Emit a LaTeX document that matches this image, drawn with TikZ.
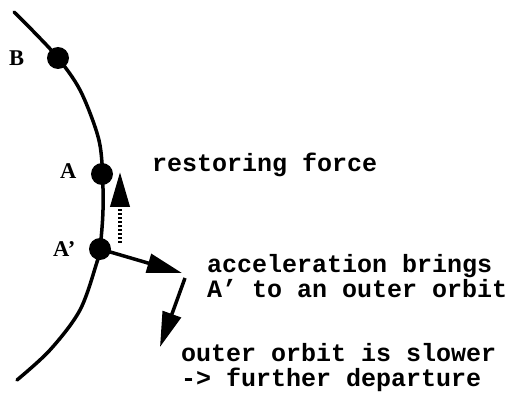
\documentclass[tikz,border=0pt]{standalone}
\usepackage{fontspec}
\setmainfont{Liberation Serif}
\newfontfamily\monob{Liberation Mono}
\usetikzlibrary{arrows.meta}
\tikzset{
  orbit/.style={line width=3.5pt, line cap=round},
  dot/.style={circle, fill=black, inner sep=0pt, minimum size=22pt},
  ptlabel/.style={font=\fontsize{22.5}{22.5}\selectfont\bfseries, inner sep=0pt, anchor=base west},
  note/.style={font=\fontsize{25}{25}\selectfont\monob\bfseries, inner sep=0pt, anchor=base west, align=left},
  bigarrow/.style={line width=3.5pt, -{Triangle[length=35pt, width=19pt]}},
}
\begin{document}
\begin{tikzpicture}[x=1pt, y=-1pt]
\useasboundingbox (0,0) rectangle (515,393);
\draw[orbit] plot[smooth, tension=0.55] coordinates {(14,12) (33,31) (58,58) (80,90) (97,133) (102,163) (103,210) (100,249) (97,262) (80,310) (50,350) (17,380)};
\node[dot] (B) at (58,58) {};
\node[dot] (A) at (102,174) {};
\node[dot] (Ap) at (100,249) {};
\node[ptlabel] (lB) at (9,66) {B};
\node[ptlabel] (lA) at (60,179) {A};
\node[ptlabel] (lAp) at (53,257) {A’};
\coordinate (rs) at (120,243);
\coordinate (re) at (120,172);
\draw[bigarrow, line width=4pt, dash pattern=on 2pt off 2pt] (rs) -- (re);
\coordinate (acc) at (182,273);
\draw[bigarrow] (Ap.center) -- (acc);
\coordinate (ds) at (185,278);
\coordinate (de) at (160,347);
\draw[bigarrow] (ds) -- (de);
\node[note] (restore) at (152,172) {restoring force};
\node[note] (accel) at (207,298) {acceleration brings\\A’ to an outer orbit};
\node[note] (outer) at (181,387) {outer orbit is slower\\-> further departure};
\end{tikzpicture}
\end{document}
